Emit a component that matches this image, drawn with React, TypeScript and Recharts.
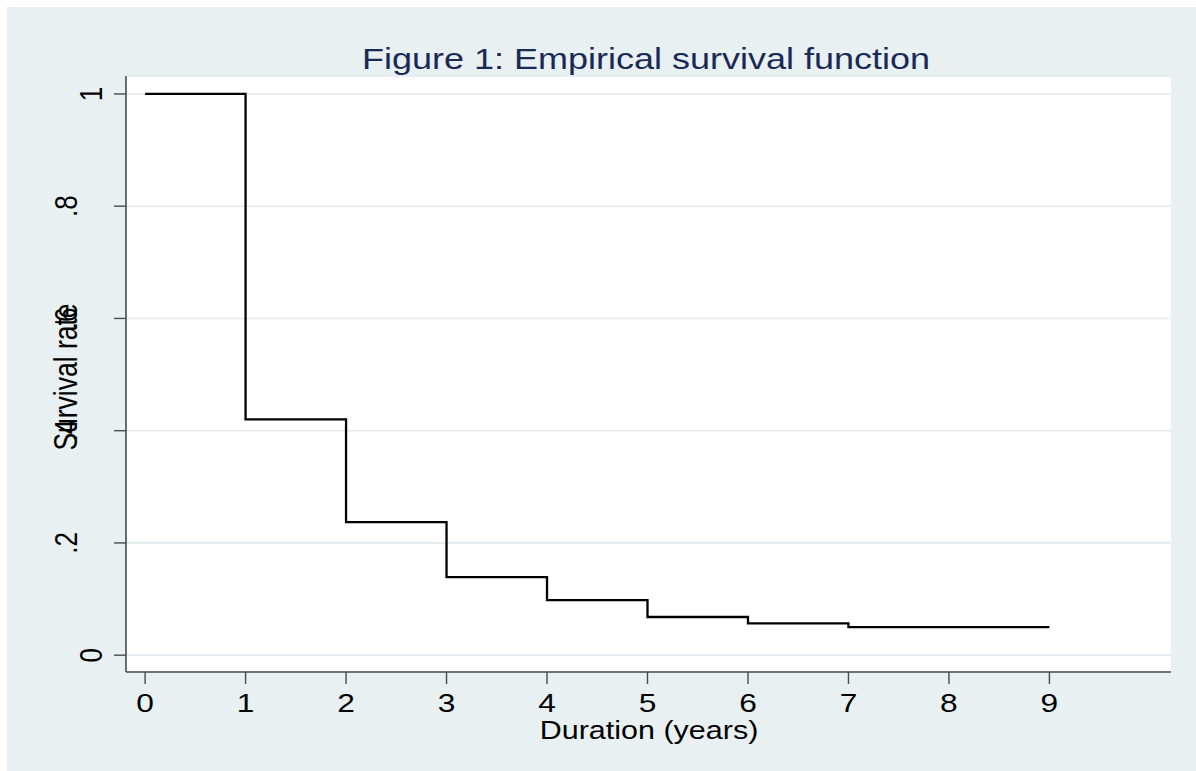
import { LineChart, Line, XAxis, YAxis, CartesianGrid } from 'recharts';

const years = [0, 1, 2, 3, 4, 5, 6, 7, 8, 9];
const survival = [1, 0.42, 0.237, 0.139, 0.098, 0.068, 0.0565, 0.05, 0.05, 0.05];
const xTicks = [0, 1, 2, 3, 4, 5, 6, 7, 8, 9];
const yTicks = [0, 0.2, 0.4, 0.6, 0.8, 1];
const yTickLabels = ['0', '.2', '.4', '.6', '.8', '1'];

const data = years.map((t, i) => ({ t, s: survival[i] }));

const FONT = '"Liberation Sans", Arial, Helvetica, sans-serif';
const BG = '#e8f0f2';
const AXIS = '#4a4a4a';
const STRETCH = 1.22; // original export is stretched horizontally

function XTick({ x, y, payload }: any) {
  return (
    <text
      transform={`translate(${x}, ${y + 26}) scale(${STRETCH}, 1)`}
      textAnchor="middle"
      fontSize={26}
      fontFamily={FONT}
      fill="#000"
    >
      {payload.value}
    </text>
  );
}

function YTick({ x, y, payload }: any) {
  const label = yTickLabels[yTicks.indexOf(payload.value)] ?? String(payload.value);
  // Stata pushes the dotted labels further from the axis
  const off = label.startsWith('.') ? -35 : -10;
  return (
    <text
      transform={`translate(${x + off}, ${y}) scale(${STRETCH}, 1) rotate(-90)`}
      textAnchor="middle"
      fontSize={26}
      fontFamily={FONT}
      fill="#000"
    >
      {label}
    </text>
  );
}

export default function App() {
  return (
    <div
      style={{
        position: 'absolute',
        left: 7,
        top: 7,
        width: 1189,
        height: 764,
        background: BG,
      }}
    >
      <LineChart
        width={1189}
        height={764}
        data={data}
        margin={{ top: 69, right: 25, bottom: 0, left: 0 }}
      >
        <CartesianGrid vertical={false} stroke="#e1eaee" strokeWidth={1.6} fill="#ffffff" />
        <XAxis
          dataKey="t"
          type="number"
          domain={[-0.19, 10.21]}
          ticks={xTicks}
          height={99}
          tickSize={12}
          axisLine={{ stroke: AXIS, strokeWidth: 1.6 }}
          tickLine={{ stroke: AXIS, strokeWidth: 1.4 }}
          tick={<XTick />}
          interval={0}
        />
        <YAxis
          type="number"
          domain={[-0.03, 1.032]}
          ticks={yTicks}
          width={119}
          tickSize={12}
          axisLine={{ stroke: AXIS, strokeWidth: 1.6 }}
          tickLine={{ stroke: AXIS, strokeWidth: 1.4 }}
          tick={<YTick />}
          interval={0}
        />
        <Line
          type="stepAfter"
          dataKey="s"
          stroke="#000"
          strokeWidth={2.3}
          dot={false}
          activeDot={false}
          isAnimationActive={false}
        />
        <text
          transform="translate(639, 62) scale(1.2, 1)"
          textAnchor="middle"
          fontSize={30}
          fontFamily={FONT}
          fill="#1a2a55"
        >
          Figure 1: Empirical survival function
        </text>
        <text
          transform={`translate(642, 732) scale(${STRETCH}, 1)`}
          textAnchor="middle"
          fontSize={25}
          fontFamily={FONT}
          fill="#000"
        >
          Duration (years)
        </text>
        <text
          transform={`translate(70, 370) scale(${STRETCH}, 1) rotate(-90)`}
          textAnchor="middle"
          fontSize={26.5}
          fontFamily={FONT}
          fill="#000"
        >
          Survival rate
        </text>
      </LineChart>
    </div>
  );
}
